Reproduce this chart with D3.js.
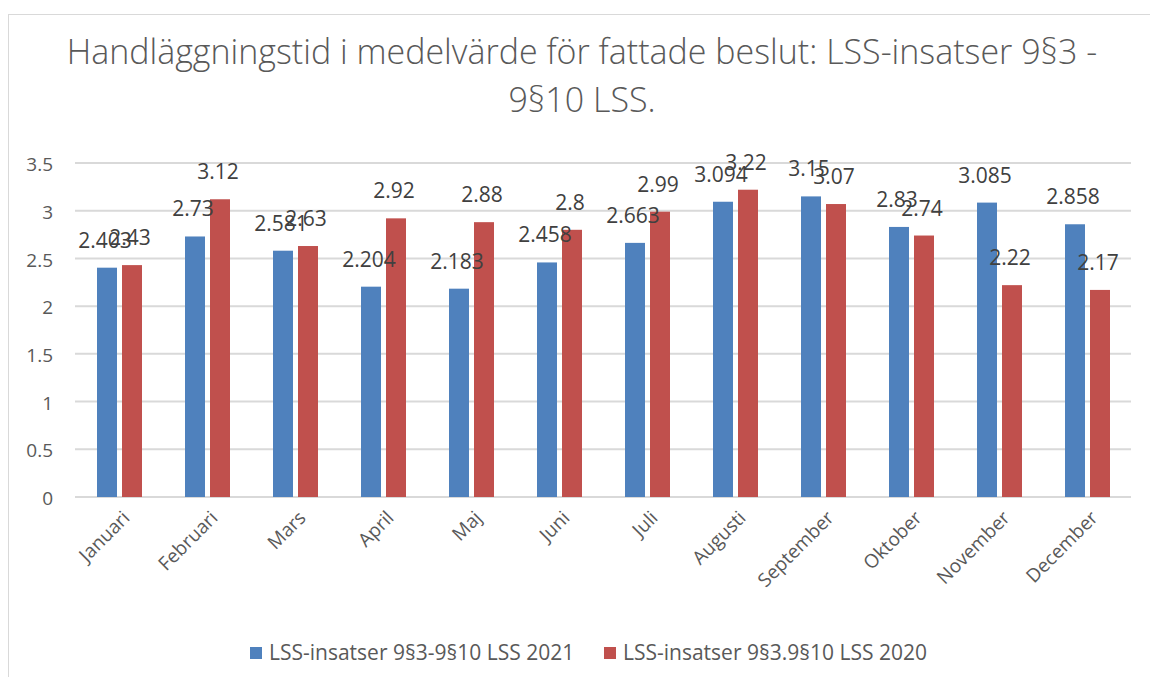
<!DOCTYPE html>
<html>
<head>
<meta charset="utf-8">
<script src="https://cdn.jsdelivr.net/npm/d3@7"></script>
<style>
  body { margin: 0; background: #fff; }
  svg { display: block; font-family: "Open Sans", sans-serif; }
</style>
</head>
<body>
<div id="chart"></div>
<script>
const months = ["Januari", "Februari", "Mars", "April", "Maj", "Juni", "Juli",
  "Augusti", "September", "Oktober", "November", "December"];
const seriesNames = ["LSS-insatser 9§3-9§10 LSS 2021", "LSS-insatser 9§3.9§10 LSS 2020"];
const values2021 = [2.403, 2.73, 2.581, 2.204, 2.183, 2.458, 2.663, 3.094, 3.15, 2.83, 3.085, 2.858];
const values2020 = [2.43, 3.12, 2.63, 2.92, 2.88, 2.8, 2.99, 3.22, 3.07, 2.74, 2.22, 2.17];
const yTicks = [0, 0.5, 1, 1.5, 2, 2.5, 3, 3.5];
const colors = ["#4f81bd", "#c0504d"];

const W = 1150, H = 677;
const margin = { top: 163, left: 75, right: 19, bottom: 180 };

const svg = d3.select("#chart").append("svg")
  .attr("width", W).attr("height", H);

// chart frame
svg.append("rect")
  .attr("x", 8.5).attr("y", 14.5)
  .attr("width", W + 20).attr("height", H + 20)
  .attr("fill", "#fff").attr("stroke", "#d9d9d9");

// title
const title = svg.append("text")
  .attr("text-anchor", "middle")
  .attr("fill", "#595959")
  .style("font-size", "34px")
  .style("font-weight", 300);
title.append("tspan").attr("x", 582).attr("y", 64)
  .text("Handläggningstid i medelvärde för fattade beslut: LSS-insatser 9§3 -");
title.append("tspan").attr("x", 582).attr("y", 112).text("9§10 LSS.");

const x0 = d3.scaleBand().domain(months)
  .range([margin.left, W - margin.right]);
const x1 = d3.scaleBand().domain([0, 1])
  .range([22, x0.bandwidth() - 21]).paddingInner(0.2);
const y = d3.scaleLinear().domain([0, 3.5])
  .range([497, margin.top]);

// gridlines
svg.append("g").selectAll("line").data(yTicks).join("line")
  .attr("x1", margin.left).attr("x2", W - margin.right)
  .attr("y1", d => y(d)).attr("y2", d => y(d))
  .attr("stroke", "#d9d9d9").attr("stroke-width", 2);

// y axis labels
const yAxis = svg.append("g")
  .attr("transform", `translate(${margin.left},0)`)
  .call(d3.axisLeft(y).tickValues(yTicks).tickSize(0).tickPadding(22).tickFormat(d3.format("")));
yAxis.select(".domain").remove();
yAxis.selectAll("text")
  .attr("fill", "#595959")
  .attr("dy", "0.4em")
  .style("font-size", "19px")
  .style("font-family", "Open Sans, sans-serif");

// bars
const data = months.map((m, i) => ({ month: m, vals: [values2021[i], values2020[i]] }));
const groups = svg.append("g").selectAll("g").data(data).join("g")
  .attr("transform", d => `translate(${x0(d.month)},0)`);

groups.selectAll("rect").data(d => d.vals.map((v, s) => ({ v, s }))).join("rect")
  .attr("x", d => x1(d.s))
  .attr("width", x1.bandwidth())
  .attr("y", d => y(d.v))
  .attr("height", d => y(0) - y(d.v))
  .attr("fill", d => colors[d.s]);

// data labels
groups.selectAll("text").data(d => d.vals.map((v, s) => ({ v, s }))).join("text")
  .attr("x", d => x1(d.s) + x1.bandwidth() / 2 - 2)
  .attr("y", d => y(d.v) - 20)
  .attr("text-anchor", "middle")
  .attr("fill", "#404040")
  .style("font-size", "21px")
  .text(d => d.v);

// x axis labels
const xAxis = svg.append("g")
  .attr("transform", `translate(0,${y(0)})`)
  .call(d3.axisBottom(x0).tickSize(0).tickPadding(0));
xAxis.select(".domain").remove();
xAxis.selectAll("text")
  .attr("fill", "#595959")
  .style("font-size", "19px")
  .style("font-family", "Open Sans, sans-serif")
  .attr("text-anchor", "end")
  .attr("dy", 0)
  .attr("transform", "translate(12,22) rotate(-45)");

// legend
const legendX = [250, 604];
const legend = svg.append("g").selectAll("g").data(seriesNames).join("g")
  .attr("transform", (d, i) => `translate(${legendX[i]},647)`);
legend.append("rect").attr("width", 12).attr("height", 12)
  .attr("fill", (d, i) => colors[i]);
legend.append("text").attr("x", 19).attr("y", 13)
  .attr("fill", "#595959")
  .style("font-size", "21px")
  .text(d => d);
</script>
</body>
</html>
